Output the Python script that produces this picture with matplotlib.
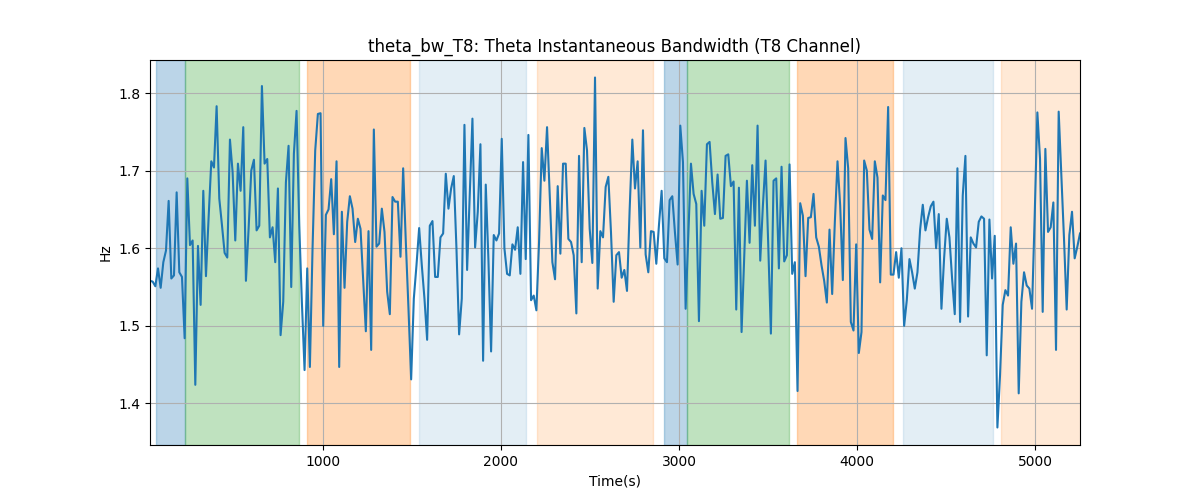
import matplotlib
matplotlib.use('Agg')
import matplotlib.pyplot as plt
import numpy as np

# Theta bandwidth values, in time order
bw_values = [
    1.558, 1.557, 1.551, 1.574, 1.549, 1.582, 1.597, 1.661, 1.561, 1.565, 1.672, 1.569, 1.563, 1.484,
    1.690, 1.604, 1.610, 1.424, 1.603, 1.527, 1.674, 1.564, 1.640, 1.712, 1.704, 1.783, 1.664, 1.630,
    1.594, 1.588, 1.740, 1.698, 1.610, 1.709, 1.674, 1.756, 1.558, 1.625, 1.700, 1.714, 1.623, 1.629,
    1.809, 1.709,
    1.715, 1.614, 1.627, 1.582, 1.677, 1.488, 1.531, 1.685, 1.732, 1.550, 1.722, 1.777, 1.630, 1.530,
    1.443, 1.574, 1.447, 1.600, 1.726, 1.773, 1.774, 1.500, 1.643, 1.650, 1.689, 1.618, 1.712, 1.447,
    1.647, 1.549, 1.634, 1.667, 1.651, 1.608, 1.638, 1.625, 1.560, 1.493, 1.622, 1.469, 1.753, 1.602,
    1.606,
    1.651, 1.621, 1.544, 1.515, 1.666, 1.660, 1.660, 1.589, 1.703, 1.608, 1.522, 1.431, 1.535, 1.578,
    1.626, 1.578, 1.535, 1.482, 1.629, 1.635, 1.563, 1.563, 1.614, 1.619, 1.696, 1.651, 1.677, 1.693,
    1.600, 1.489, 1.535, 1.759, 1.572, 1.668, 1.767, 1.601, 1.647, 1.734, 1.455, 1.682, 1.585, 1.467,
    1.617,
    1.610, 1.619, 1.741, 1.600, 1.567, 1.565, 1.605, 1.598, 1.627, 1.567, 1.711, 1.586, 1.746, 1.533,
    1.539, 1.520, 1.608, 1.729, 1.687, 1.756, 1.668, 1.582, 1.560, 1.680, 1.593, 1.709, 1.709, 1.612,
    1.608, 1.591, 1.516, 1.719, 1.582, 1.755, 1.726, 1.625, 1.581, 1.820, 1.548, 1.622, 1.614, 1.679,
    1.692,
    1.620, 1.531, 1.591, 1.595, 1.562, 1.572, 1.545, 1.650, 1.740, 1.677, 1.712, 1.601, 1.752, 1.592,
    1.569, 1.622, 1.621, 1.580, 1.630, 1.674, 1.587, 1.582, 1.662, 1.667, 1.620, 1.579, 1.758, 1.711,
    1.522, 1.617, 1.709, 1.670, 1.657, 1.506, 1.674, 1.629, 1.734, 1.737, 1.685, 1.644, 1.695, 1.638,
    1.639,
    1.719, 1.721, 1.680, 1.686, 1.521, 1.678, 1.492, 1.591, 1.687, 1.607, 1.707, 1.629, 1.758, 1.584,
    1.655, 1.713, 1.605, 1.490, 1.687, 1.690, 1.574, 1.705, 1.583, 1.591, 1.708, 1.567, 1.582, 1.416,
    1.658, 1.642, 1.564, 1.639, 1.640, 1.670, 1.614, 1.602, 1.578, 1.558, 1.530, 1.624, 1.541, 1.634,
    1.712,
    1.655, 1.559, 1.742, 1.703, 1.505, 1.494, 1.605, 1.465, 1.492, 1.713, 1.700, 1.624, 1.612, 1.712,
    1.691, 1.556, 1.668, 1.662, 1.782, 1.566, 1.566, 1.595, 1.562, 1.600, 1.500, 1.533, 1.586, 1.569,
    1.548, 1.569, 1.624, 1.656, 1.623, 1.640, 1.654, 1.660, 1.600, 1.644, 1.522, 1.587, 1.638, 1.614,
    1.561, 1.515, 1.703, 1.505, 1.668, 1.719, 1.512, 1.614, 1.606, 1.601, 1.634, 1.641, 1.638, 1.462,
    1.637, 1.561, 1.616, 1.369, 1.437, 1.527, 1.546, 1.539, 1.627, 1.580, 1.606, 1.413, 1.531, 1.569,
    1.552, 1.548, 1.522, 1.642, 1.775, 1.715, 1.518, 1.728, 1.621, 1.627, 1.659, 1.469, 1.776, 1.694,
    1.612, 1.521, 1.617, 1.647, 1.587, 1.602, 1.619,
]
t_start, t_end = 30, 5250

# shaded segments: (start, end, colour, alpha)
seg_starts = [63, 226, 910, 1539, 2201, 2915, 3046, 3661, 4254, 4809]
seg_ends = [226, 865, 1488, 2143, 2851, 3046, 3614, 4203, 4764, 5260]
seg_colors = ['tab:blue', 'tab:green', 'tab:orange', 'tab:blue', 'tab:orange',
              'tab:blue', 'tab:green', 'tab:orange', 'tab:blue', 'tab:orange']
seg_alphas = [0.3, 0.3, 0.3, 0.12, 0.17, 0.3, 0.3, 0.3, 0.12, 0.17]

time = np.linspace(t_start, t_end, len(bw_values))

fig, ax = plt.subplots(figsize=(12, 5), dpi=100)
for s, e, c, a in zip(seg_starts, seg_ends, seg_colors, seg_alphas):
    ax.axvspan(s, e, color=c, alpha=a)
ax.plot(time, bw_values, color='tab:blue')
ax.set_xlim(t_start, t_end)
ax.set_title('theta_bw_T8: Theta Instantaneous Bandwidth (T8 Channel)')
ax.set_xlabel('Time(s)')
ax.set_ylabel('Hz')
ax.grid(True)
fig.savefig('out.png')
